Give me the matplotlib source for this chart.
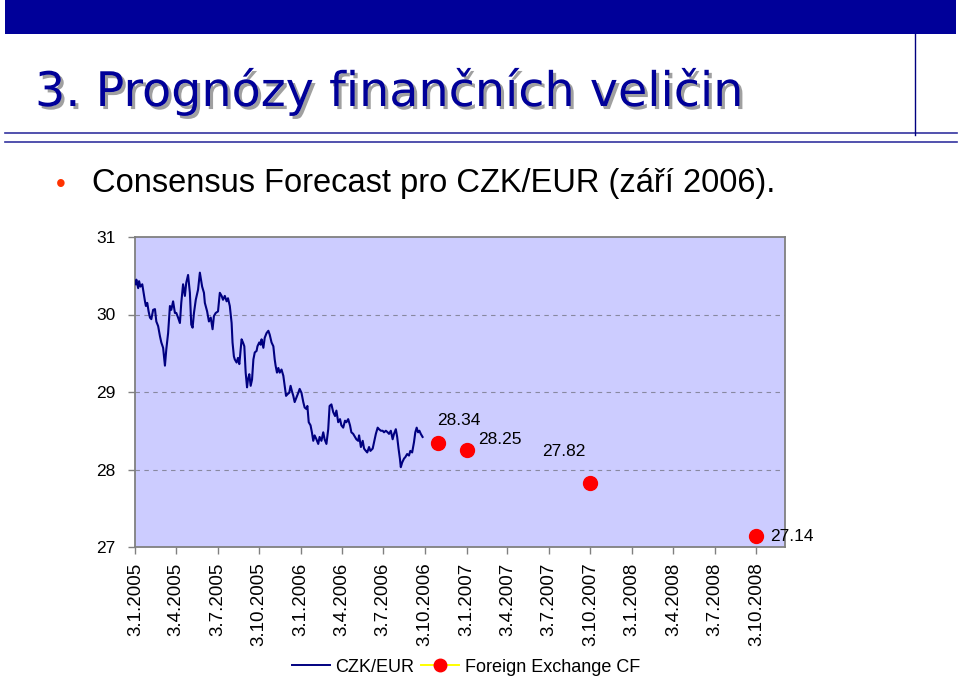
import matplotlib
matplotlib.use('Agg')
import matplotlib.pyplot as plt
import matplotlib.patheffects as pe
from matplotlib.lines import Line2D
import datetime as dt

# ---------------- data ----------------
start_date = dt.datetime(2005, 1, 3)
day_offsets = [0,2,6,8,11,15,18,21,23,26,
               29,32,35,39,43,46,50,54,57,61,
               65,68,72,76,79,83,87,90,94,98,
               101,105,109,112,116,120,123,126,129,133,
               138,142,144,147,151,153,158,162,166,170,
               173,177,182,186,190,193,197,201,204,208,
               212,214,217,219,223,226,229,232,234,237,
               240,243,246,248,251,254,257,260,263,267,
               269,273,276,278,282,285,289,293,296,300,
               304,307,309,312,315,318,322,326,329,332,
               335,339,342,345,348,351,355,359,362,366,
               370,373,377,379,382,386,389,392,395,399,
               403,406,410,414,417,421,425,428,432,436,
               440,443,447,451,454,458,462,465,469,473,
               476,480,484,487,491,493,497,501,504,508,
               511,515,518,523,526,530,534,537,541,545,
               548,552,556,559,563,567,570,574,577,580,
               583,585,588,592,595,599,603,606,610,614,
               617,620,623,626,629,633]
czk_eur = [30.39,30.45,30.34,30.43,30.36,30.39,30.28,30.17,30.11,30.15,
           30.04,29.96,29.94,30.06,30.07,29.91,29.85,29.72,29.64,29.57,
           29.34,29.55,29.76,30.11,30.06,30.17,30.02,30.02,29.96,29.89,
           30.15,30.39,30.24,30.41,30.51,30.28,29.87,29.83,30.02,30.19,
           30.32,30.54,30.47,30.36,30.28,30.15,30.04,29.91,29.96,29.81,
           29.98,30.02,30.04,30.28,30.24,30.19,30.24,30.17,30.21,30.11,
           29.89,29.64,29.46,29.42,29.38,29.44,29.36,29.55,29.68,29.64,
           29.59,29.25,29.06,29.16,29.23,29.08,29.16,29.42,29.51,29.53,
           29.59,29.64,29.61,29.68,29.57,29.70,29.76,29.79,29.74,29.64,
           29.59,29.42,29.34,29.25,29.31,29.25,29.29,29.21,29.08,28.95,
           28.97,28.99,29.08,29.01,28.95,28.87,28.93,28.99,29.04,28.99,
           28.87,28.80,28.78,28.82,28.61,28.57,28.48,28.37,28.44,28.39,
           28.33,28.42,28.37,28.48,28.39,28.33,28.52,28.82,28.84,28.74,
           28.69,28.76,28.61,28.65,28.57,28.54,28.63,28.61,28.65,28.57,
           28.48,28.46,28.42,28.39,28.37,28.44,28.29,28.37,28.27,28.24,
           28.22,28.29,28.24,28.27,28.35,28.46,28.54,28.52,28.50,28.50,
           28.48,28.50,28.48,28.46,28.50,28.39,28.46,28.52,28.42,28.27,
           28.14,28.03,28.09,28.14,28.16,28.20,28.18,28.24,28.22,28.35,
           28.48,28.54,28.48,28.50,28.46,28.42]

fc_dates = ['31.10.2006', '3.1.2007', '3.10.2007', '3.10.2008']
fc_values = [28.34, 28.25, 27.82, 27.14]

tick_labels = ['3.1.2005', '3.4.2005', '3.7.2005', '3.10.2005',
               '3.1.2006', '3.4.2006', '3.7.2006', '3.10.2006',
               '3.1.2007', '3.4.2007', '3.7.2007', '3.10.2007',
               '3.1.2008', '3.4.2008', '3.7.2008', '3.10.2008']
y_ticks = [27, 28, 29, 30, 31]

title = '3. Prognózy finančních veličin'
subtitle = 'Consensus Forecast pro CZK/EUR (září 2006).'
series_names = ['CZK/EUR', 'Foreign Exchange CF']

# label offsets in points (style)
label_offsets = [(0, 16), (8, 8), (-35, 23), (10, 0)]

# ---------------- figure ----------------
W, H = 960, 678
fig = plt.figure(figsize=(W / 100, H / 100), dpi=100)
fig.patch.set_facecolor('white')
plt.rcParams['font.family'] = ['Liberation Sans', 'DejaVu Sans']

def fx(px):
    return px / W

def fy(py):
    return 1 - py / H

# slide decoration
fig.add_artist(plt.Rectangle((fx(5), fy(34)), fx(951), 34 / H,
                             transform=fig.transFigure, color='#000099', lw=0))
fig.add_artist(Line2D([fx(5), fx(957)], [fy(133), fy(133)], transform=fig.transFigure,
                      color='#3333A0', lw=1.2))
fig.add_artist(Line2D([fx(5), fx(957)], [fy(142), fy(142)], transform=fig.transFigure,
                      color='#3333A0', lw=1.2))
fig.add_artist(Line2D([fx(915), fx(915)], [fy(34), fy(135)], transform=fig.transFigure,
                      color='#000080', lw=1.0))

# title with shadow
fig.text(fx(35), fy(106), title, color='#000099', family='DejaVu Sans',
         fontsize=34.3, va='baseline', ha='left',
         path_effects=[pe.withSimplePatchShadow(offset=(2.2, -2.2),
                                                shadow_rgbFace='#A0A0A0', alpha=1.0)])

# bullet + subtitle
fig.text(fx(56), fy(192), '•', color='#FF3300', fontsize=20, va='baseline', ha='left',
         family='Liberation Sans')
fig.text(fx(92), fy(192), subtitle, color='black', fontsize=23.5, va='baseline', ha='left',
         family='Liberation Sans')

# ---------------- chart ----------------
ax = fig.add_axes([fx(135), 131 / H, 650 / W, 310 / H])
ax.set_facecolor('#CCCCFF')

dates = [start_date + dt.timedelta(days=d) for d in day_offsets]
fdates = [dt.datetime.strptime(s, '%d.%m.%Y') for s in fc_dates]
tdates = [dt.datetime.strptime(s, '%d.%m.%Y') for s in tick_labels]

for yv in y_ticks[1:-1]:
    ax.axhline(yv, color='#8888A0', lw=0.8, ls=(0, (4, 4)), zorder=1)

ax.plot(dates, czk_eur, color='#000080', lw=1.5, zorder=3)
ax.plot(fdates, fc_values, ls='none', marker='o', ms=10, color='#FF0000',
        markeredgecolor='#FF0000', zorder=4)

for d, v, off in zip(fdates, fc_values, label_offsets):
    ax.annotate(f'{v:.2f}', xy=(d, v), xytext=off, textcoords='offset points',
                ha='left', va='center', fontsize=12.5, color='black', zorder=5)

ax.set_xlim(dt.datetime(2005, 1, 2), dt.datetime(2008, 12, 5))
ax.set_ylim(27, 31)
ax.set_yticks(y_ticks)
ax.set_yticklabels([str(v) for v in y_ticks])
ax.set_xticks(tdates)
ax.set_xticklabels(tick_labels, rotation=90, va='top', ha='center')

for s in ax.spines.values():
    s.set_color('#808080')
    s.set_linewidth(1.3)
ax.tick_params(axis='both', direction='out', length=5, color='#808080', width=1,
               labelsize=12.5, labelcolor='black')
ax.tick_params(axis='x', labelsize=13.5, pad=6)
ax.tick_params(axis='y', pad=9)

handles = [Line2D([0], [0], color='#000080', lw=1.4),
           Line2D([0], [0], color='#FFFF00', lw=1.4, marker='o', ms=9,
                  markerfacecolor='#FF0000', markeredgecolor='#FF0000')]
fig.legend(handles, series_names, loc='center', bbox_to_anchor=(fx(466), fy(667)),
           ncol=2, frameon=False, fontsize=13, handlelength=2.1, handletextpad=0.3,
           columnspacing=0.4, borderaxespad=0, borderpad=0)

fig.savefig('out.png', dpi=100, facecolor='white')
